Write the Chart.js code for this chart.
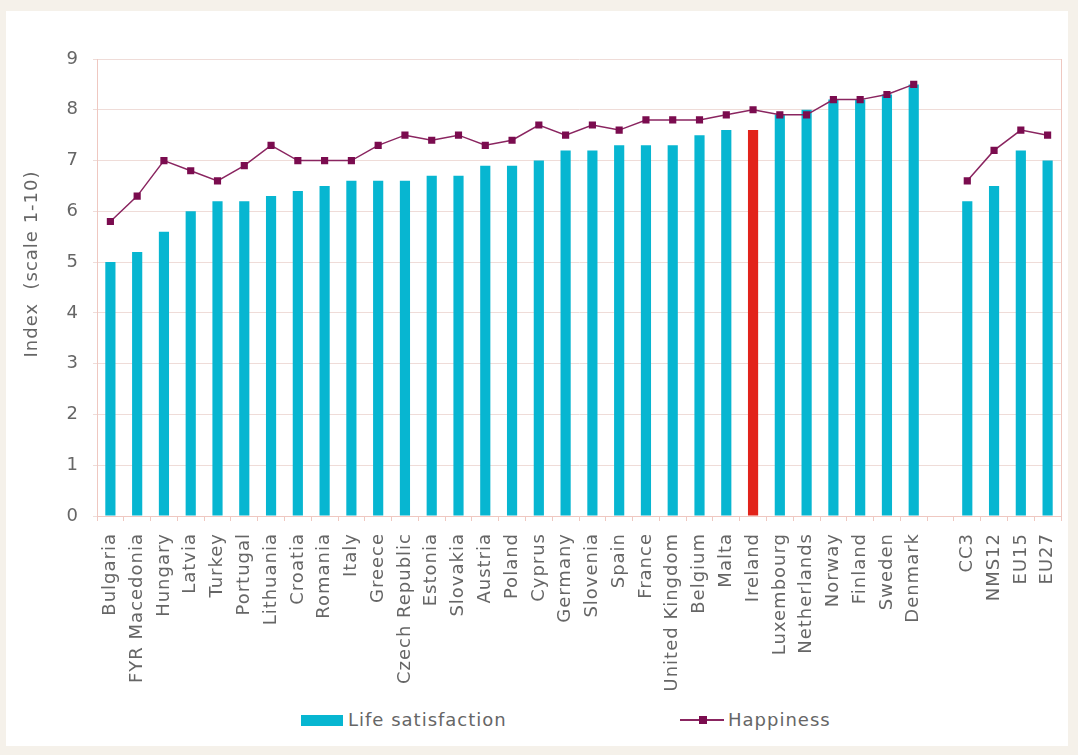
<!DOCTYPE html>
<html>
<head>
<meta charset="utf-8">
<script src="https://cdn.jsdelivr.net/npm/chart.js@4.4.1/dist/chart.umd.min.js"></script>
<style>
  html, body { margin: 0; padding: 0; background: #f5f1ea; }
  #wrap { position: relative; width: 1078px; height: 755px; overflow: hidden; }
  #panel { position: absolute; left: 6px; top: 11px; width: 1062px; height: 735px; background: #fff; }
  #chart { position: absolute; left: 0; top: 0; }
  .legend { position: absolute; font-family: "DejaVu Sans", sans-serif; font-size: 18px; letter-spacing: 1px; color: #666; line-height: 20px; }
  .box { position: absolute; background: #07b6d1; }
  .lline { position: absolute; height: 2px; background: #8a2560; }
  .lmark { position: absolute; width: 8px; height: 8px; background: #7b0c4f; }
</style>
</head>
<body>
<div id="wrap">
  <div id="panel"></div>
  <canvas id="chart" width="1078" height="700"></canvas>
  <div class="box" style="left:301px; top:715px; width:42px; height:11px;"></div>
  <div class="legend" style="left:348px; top:710px;">Life satisfaction</div>
  <div class="lline" style="left:680px; top:719px; width:44px;"></div>
  <div class="lmark" style="left:699px; top:716px;"></div>
  <div class="legend" style="left:728px; top:710px;">Happiness</div>
</div>
<script>
// categories (empty slot separates countries from the country groups)
const categories = ['Bulgaria', 'FYR Macedonia', 'Hungary', 'Latvia', 'Turkey', 'Portugal',
  'Lithuania', 'Croatia', 'Romania', 'Italy', 'Greece', 'Czech Republic', 'Estonia',
  'Slovakia', 'Austria', 'Poland', 'Cyprus', 'Germany', 'Slovenia', 'Spain', 'France',
  'United Kingdom', 'Belgium', 'Malta', 'Ireland', 'Luxembourg', 'Netherlands', 'Norway',
  'Finland', 'Sweden', 'Denmark', '', 'CC3', 'NMS12', 'EU15', 'EU27'];

const lifeSatisfaction = [5.0, 5.2, 5.6, 6.0, 6.2, 6.2, 6.3, 6.4, 6.5, 6.6, 6.6, 6.6, 6.7,
  6.7, 6.9, 6.9, 7.0, 7.2, 7.2, 7.3, 7.3, 7.3, 7.5, 7.6, 7.6, 7.9, 8.0, 8.2, 8.2, 8.3, 8.5,
  null, 6.2, 6.5, 7.2, 7.0];

const happiness = [5.8, 6.3, 7.0, 6.8, 6.6, 6.9, 7.3, 7.0, 7.0, 7.0, 7.3, 7.5, 7.4,
  7.5, 7.3, 7.4, 7.7, 7.5, 7.7, 7.6, 7.8, 7.8, 7.8, 7.9, 8.0, 7.9, 7.9, 8.2, 8.2, 8.3, 8.5,
  null, 6.6, 7.2, 7.6, 7.5];

const yTicks = [0, 1, 2, 3, 4, 5, 6, 7, 8, 9];
const highlighted = 'Ireland';

const barColors = categories.map(c => c === highlighted ? '#e2231a' : '#07b6d1');

const textFont = { family: 'DejaVu Sans', size: 18 };
const textColor = '#666';
const gridColor = '#efdcd8';
const axisColor = '#efc8c1';

// wider tracking for all canvas text
const spacing = {
  id: 'spacing',
  beforeUpdate(chart) { chart.ctx.letterSpacing = '1px'; },
  beforeDraw(chart) { chart.ctx.letterSpacing = '1px'; }
};

const ctx = document.querySelector('#chart').getContext('2d');
const myChart = new Chart(ctx, {
  type: 'bar',
  data: {
    labels: categories,
    datasets: [{
      type: 'line',
      label: 'Happiness',
      data: happiness,
      borderColor: '#8a2560',
      borderWidth: 1.5,
      pointStyle: 'rect',
      pointRadius: 4,
      pointBackgroundColor: '#7b0c4f',
      pointBorderColor: '#7b0c4f',
      spanGaps: false,
      tension: 0,
      order: 1
    }, {
      label: 'Life satisfaction',
      data: lifeSatisfaction,
      backgroundColor: barColors,
      barPercentage: 0.38,
      categoryPercentage: 1,
      order: 2
    }]
  },
  options: {
    responsive: false,
    animation: false,
    devicePixelRatio: 1,
    layout: { padding: { top: 59, right: 17, bottom: 0, left: 0 } },
    plugins: { legend: { display: false }, tooltip: { enabled: false } },
    scales: {
      x: {
        grid: { offset: true, drawOnChartArea: false, drawTicks: true, tickLength: 5, color: axisColor },
        border: { color: axisColor },
        ticks: { minRotation: 90, maxRotation: 90, autoSkip: false, font: textFont, color: textColor, padding: 12 },
        afterFit: s => { s.height = 184; s.paddingLeft = 0; s.paddingRight = 0; }
      },
      y: {
        min: 0,
        max: 9,
        afterBuildTicks: s => { s.ticks = yTicks.map(v => ({ value: v })); },
        grid: { color: gridColor, tickLength: 4 },
        border: { color: axisColor },
        ticks: { font: textFont, color: textColor, padding: 14 },
        title: { display: true, text: '       Index  (scale 1-10)', font: textFont, color: textColor, padding: { top: 22, bottom: 0 } },
        afterFit: s => { s.width = 97; }
      },
      y2: {
        position: 'right',
        min: 0,
        max: 9,
        ticks: { display: false },
        grid: { drawOnChartArea: false, drawTicks: false },
        border: { color: axisColor },
        afterFit: s => { s.width = 0; }
      }
    }
  },
  plugins: [spacing]
});
</script>
</body>
</html>
